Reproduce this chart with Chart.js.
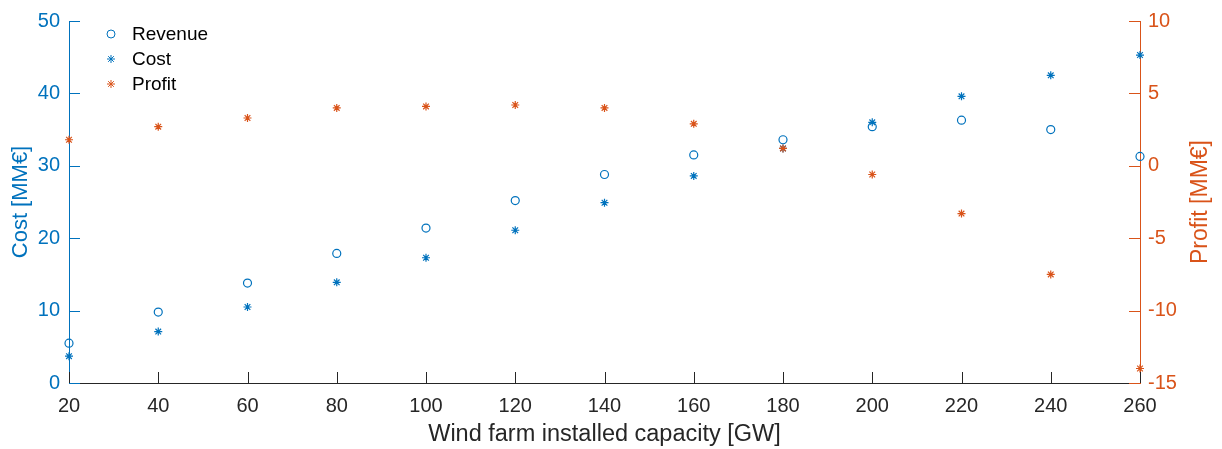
<!DOCTYPE html>
<html>
<head>
<meta charset="utf-8">
<title>Wind farm cost / revenue / profit</title>
<script src="https://cdn.jsdelivr.net/npm/chart.js@4.4.1/dist/chart.umd.min.js"></script>
<style>
  html, body { margin: 0; padding: 0; background: #fff; }
  #wrap { width: 1222px; height: 449px; position: relative; }
</style>
</head>
<body>
<div id="wrap"><canvas id="myChart"></canvas></div>
<script>
// data
const capacity = [20, 40, 60, 80, 100, 120, 140, 160, 180, 200, 220, 240, 260];
const revenue  = [5.5, 9.8, 13.8, 17.9, 21.4, 25.2, 28.8, 31.5, 33.6, 35.4, 36.3, 35.0, 31.3];
const cost     = [3.7, 7.1, 10.5, 13.9, 17.3, 21.1, 24.9, 28.6, 32.4, 36.0, 39.6, 42.5, 45.3];
const profit   = [1.8, 2.7, 3.3, 4.0, 4.1, 4.2, 4.0, 2.9, 1.2, -0.6, -3.3, -7.5, -14.0];

const xTicks      = [20, 40, 60, 80, 100, 120, 140, 160, 180, 200, 220, 240, 260];
const costTicks   = [0, 10, 20, 30, 40, 50];
const profitTicks = [-15, -10, -5, 0, 5, 10];

const BLUE = '#0072BD';
const ORANGE = '#D95319';
const DARK = '#262626';
const FONT = '"Liberation Sans", Arial, Helvetica, sans-serif';

const pts = (ys) => capacity.map((x, i) => ({ x: x, y: ys[i] }));

// MATLAB style: ticks pointing inward, own titles, legend inside the axes
const matlabAxes = {
    id: 'matlabAxes',
    afterDraw(chart) {
        const ctx = chart.ctx;
        const a = chart.chartArea;
        const x = chart.scales.x, yl = chart.scales.y, yr = chart.scales.y1;
        const len = 11;
        ctx.save();
        ctx.lineWidth = 1;

        ctx.strokeStyle = DARK;
        xTicks.forEach(v => {
            const px = Math.round(x.getPixelForValue(v)) + 0.5;
            ctx.beginPath(); ctx.moveTo(px, a.bottom); ctx.lineTo(px, a.bottom - len); ctx.stroke();
        });
        ctx.strokeStyle = BLUE;
        costTicks.forEach(v => {
            const py = Math.round(yl.getPixelForValue(v)) + 0.5;
            ctx.beginPath(); ctx.moveTo(a.left, py); ctx.lineTo(a.left + len, py); ctx.stroke();
        });
        ctx.strokeStyle = ORANGE;
        profitTicks.forEach(v => {
            const py = Math.round(yr.getPixelForValue(v)) + 0.5;
            ctx.beginPath(); ctx.moveTo(a.right, py); ctx.lineTo(a.right - len, py); ctx.stroke();
        });

        // axis titles
        const midY = (a.top + a.bottom) / 2;
        ctx.textAlign = 'center';
        ctx.textBaseline = 'middle';

        ctx.save();
        ctx.translate(21, midY);
        ctx.rotate(-Math.PI / 2);
        ctx.fillStyle = BLUE;
        ctx.font = '22px ' + FONT;
        ctx.fillText('Cost [MM€]', 0, 0);
        ctx.restore();

        ctx.save();
        ctx.translate(1201, midY);
        ctx.rotate(-Math.PI / 2);
        ctx.fillStyle = ORANGE;
        ctx.font = '23px ' + FONT;
        ctx.fillText('Profit [MM€]', 0, 0);
        ctx.restore();

        ctx.fillStyle = DARK;
        ctx.font = '23.5px ' + FONT;
        ctx.fillText('Wind farm installed capacity [GW]', (a.left + a.right) / 2, 435);

        // legend
        const rows = [34, 59, 84];
        chart.data.datasets.forEach((ds, i) => {
            ctx.strokeStyle = ds.borderColor;
            ctx.fillStyle = ds.backgroundColor;
            Chart.helpers.drawPoint(ctx, {
                pointStyle: ds.pointStyle, radius: ds.pointRadius,
                rotation: 0, borderWidth: ds.borderWidth
            }, 111, rows[i]);
            ctx.fillStyle = '#000';
            ctx.font = '19px ' + FONT;
            ctx.textAlign = 'left';
            ctx.fillText(ds.label, 132, rows[i] + 1);
        });
        ctx.restore();
    }
};

const ctx = document.getElementById('myChart');

new Chart(ctx, {
    type: 'scatter',
    data: {
        datasets: [{
            label: 'Revenue',
            data: pts(revenue),
            yAxisID: 'y',
            order: 2,
            pointStyle: 'circle',
            pointRadius: 4,
            borderWidth: 1.2,
            borderColor: BLUE,
            backgroundColor: 'rgba(0,0,0,0)',
            clip: false
        },
        {
            label: 'Cost',
            data: pts(cost),
            yAxisID: 'y',
            order: 1,
            pointStyle: 'star',
            pointRadius: 4,
            borderWidth: 1.2,
            borderColor: BLUE,
            backgroundColor: BLUE,
            clip: false
        },
        {
            label: 'Profit',
            data: pts(profit),
            yAxisID: 'y1',
            order: 0,   // drawn last, on top (as in the figure at 180 GW)
            pointStyle: 'star',
            pointRadius: 4,
            borderWidth: 1.2,
            borderColor: ORANGE,
            backgroundColor: ORANGE,
            clip: false
        }]
    },
    options: {
        responsive: true,
        maintainAspectRatio: false,
        animation: false,
        layout: { padding: { top: 16, left: 0, right: 0, bottom: 0 } },
        plugins: {
            legend: { display: false },
            tooltip: { enabled: false }
        },
        scales: {
            x: {
                type: 'linear',
                min: 20,
                max: 260,
                afterBuildTicks: s => { s.ticks = xTicks.map(v => ({ value: v })); },
                afterFit: s => { s.height = 66; },
                ticks: { color: DARK, padding: 11, maxRotation: 0, font: { size: 20, family: FONT } },
                grid: { display: false, drawTicks: false },
                border: { display: true, color: DARK, width: 1 }
            },
            y: {
                position: 'left',
                min: 0,
                max: 50,
                afterBuildTicks: s => { s.ticks = costTicks.map(v => ({ value: v })); },
                afterFit: s => { s.width = 69; },
                ticks: { color: BLUE, padding: 9, font: { size: 20, family: FONT } },
                grid: { display: false, drawTicks: false },
                border: { display: true, color: BLUE, width: 1 }
            },
            y1: {
                position: 'right',
                min: -15,
                max: 10,
                afterBuildTicks: s => { s.ticks = profitTicks.map(v => ({ value: v })); },
                afterFit: s => { s.width = 82; },
                ticks: { color: ORANGE, padding: 8, font: { size: 20, family: FONT } },
                grid: { display: false, drawTicks: false },
                border: { display: true, color: ORANGE, width: 1 }
            }
        }
    },
    plugins: [matlabAxes]
});
</script>
</body>
</html>
